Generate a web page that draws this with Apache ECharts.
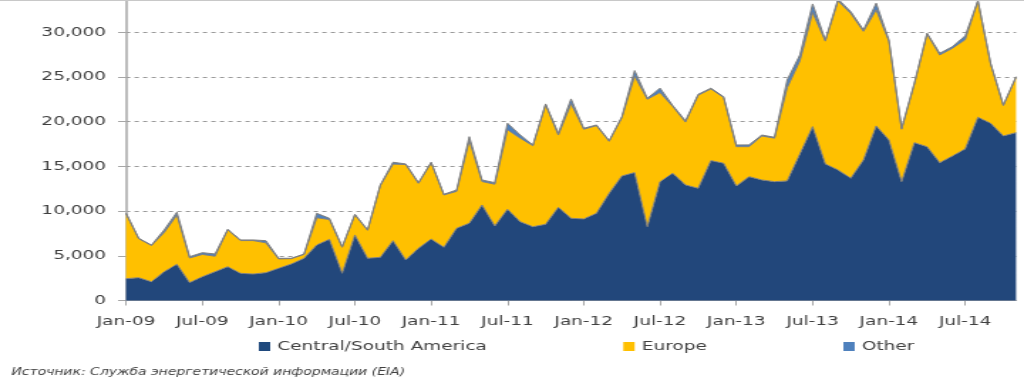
<!DOCTYPE html>
<html>
<head>
<meta charset="utf-8">
<script src="https://cdn.jsdelivr.net/npm/echarts@6/dist/echarts.min.js"></script>
<style>
  html, body { margin:0; padding:0; background:#ffffff; overflow:hidden; }
  #chart { position:absolute; left:0; top:0; width:720px; height:384px; transform:scaleX(1.42222); transform-origin:0 0; }
  #topline { position:absolute; left:0; top:0; width:1024px; height:1px; background:#c8c8c8; z-index:5; }
</style>
</head>
<body>
<div id="chart"></div>
<div id="topline"></div>
<script>
// Months Jan-09 .. Nov-14
const monthNames = ['Jan','Feb','Mar','Apr','May','Jun','Jul','Aug','Sep','Oct','Nov','Dec'];
const years = ['09','10','11','12','13','14'];
const categories = [];
for (const y of years) for (const m of monthNames) categories.push(m + '-' + y);
categories.length = 71;

const centralSouthAmerica = [
  2440, 2550, 2100, 3220, 4050, 2000, 2660, 3220, 3780, 3040, 2960, 3110,
  3600, 4080, 4720, 6210, 6840, 3040, 7330, 4720, 4830, 6690, 4530, 5840,
  6880, 5950, 8080, 8640, 10680, 8330, 10200, 8810, 8250, 8520, 10420, 9190,
  9120, 9750, 11990, 13930, 14300, 8250, 13290, 14230, 12920, 12550, 15640, 15350,
  12810, 13850, 13480, 13290, 13370, 16390, 19440, 15270, 14600, 13670, 15720, 19520,
  17950, 13290, 17650, 17200, 15410, 16160, 16950, 20490, 19820, 18400, 18770
];
const europe = [
  7260, 4350, 4050, 4380, 5500, 2750, 2490, 1730, 4120, 3660, 3740, 3340,
  1050, 600, 430, 3040, 2210, 2910, 2250, 3130, 8020, 8560, 10670, 7260,
  8520, 5850, 4120, 9260, 2620, 4670, 8900, 9340, 9050, 13380, 8080, 12810,
  10030, 9800, 5810, 6520, 10800, 14250, 9960, 7470, 7030, 10400, 8010, 7350,
  4390, 3350, 4920, 4860, 10430, 10410, 12760, 13730, 18900, 18430, 14380, 12980,
  11050, 5860, 6550, 12600, 12040, 12040, 12200, 13010, 6630, 3400, 6180
];
const other = [
  90, 60, 50, 290, 320, 150, 200, 250, 60, 70, 70, 240,
  70, 40, 50, 500, 140, 70, 60, 40, 70, 210, 70, 80,
  60, 80, 160, 420, 180, 180, 720, 360, 90, 80, 200, 540,
  110, 80, 70, 110, 610, 120, 490, 100, 150, 110, 90, 100,
  190, 200, 110, 100, 860, 660, 960, 140, 200, 200, 160, 740,
  140, 110, 100, 90, 200, 190, 440, 30, 80, 70, 80
];
const yTickStep = 5000;

const chart = echarts.init(document.getElementById('chart'), null, { renderer: 'canvas' });
const FONT = 'DejaVu Sans';
const edge = { color: '#7f7f7f', width: 1 };

chart.setOption({
  animation: false,
  backgroundColor: '#ffffff',
  title: {
    text: 'Источник: Служба энергетической информации (EIA)',
    left: 3, top: 362,
    textStyle: { fontFamily: FONT, fontSize: 9.8, fontStyle: 'italic', fontWeight: 'normal', color: '#404040' }
  },
  legend: {
    data: ['Central/South America', 'Europe', 'Other'],
    left: 177, top: 335,
    itemWidth: 8, itemHeight: 9, itemGap: 96,
    icon: 'rect',
    textStyle: { fontFamily: FONT, fontSize: 13, color: '#404040' }
  },
  grid: { left: 88.6, right: 5.6, top: 0, bottom: 83.5, containLabel: false },
  xAxis: {
    type: 'category',
    data: categories,
    boundaryGap: false,
    axisLine: { show: true, lineStyle: { color: '#a6a6a6', width: 1 } },
    axisTick: { show: true, interval: 5, length: 5, lineStyle: { color: '#a6a6a6' } },
    axisLabel: { interval: 5, margin: 15, fontFamily: FONT, fontSize: 13, color: '#404040' },
    splitLine: { show: false }
  },
  yAxis: {
    type: 'value',
    min: 0, max: 33600, interval: yTickStep,
    axisLine: { show: true, lineStyle: { color: '#a6a6a6', width: 1.5 } },
    axisTick: { show: true, length: 5.6, lineStyle: { color: '#a6a6a6' } },
    axisLabel: {
      margin: 14, fontFamily: FONT, fontSize: 13, color: '#404040',
      formatter: v => (v % yTickStep === 0 ? v.toLocaleString('en-US') : '')
    },
    splitLine: { show: true, lineStyle: { color: '#9a9a9a', type: [3, 3], width: 1 } }
  },
  series: [
    { name: 'Central/South America', type: 'line', stack: 'total', data: centralSouthAmerica, symbol: 'none',
      lineStyle: edge, itemStyle: { color: '#1f497d' }, areaStyle: { color: '#22477b', opacity: 1 } },
    { name: 'Europe', type: 'line', stack: 'total', data: europe, symbol: 'none',
      lineStyle: edge, itemStyle: { color: '#ffc000' }, areaStyle: { color: '#ffc000', opacity: 1 } },
    { name: 'Other', type: 'line', stack: 'total', data: other, symbol: 'none',
      lineStyle: edge, itemStyle: { color: '#4f81bd' }, areaStyle: { color: '#4f81bd', opacity: 1 } }
  ]
});
</script>
</body>
</html>
